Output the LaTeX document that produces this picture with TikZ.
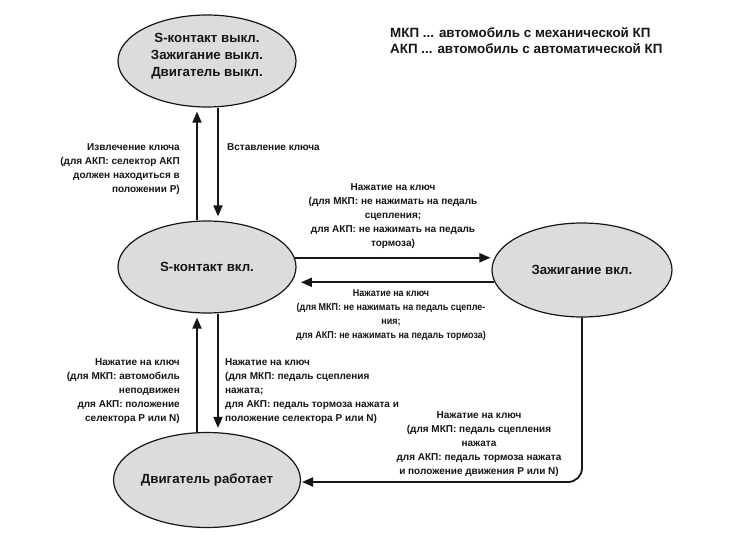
\documentclass[tikz,border=0pt]{standalone}
\usepackage{fontspec}
\setmainfont{Liberation Sans}
\newfontfamily\condfont{Liberation Sans}[FakeStretch=0.9]
\usetikzlibrary{shapes.geometric,arrows.meta}
\definecolor{efill}{HTML}{DCDCDC}
\definecolor{ink}{HTML}{161616}
\begin{document}
\begin{tikzpicture}[x=1pt,y=-1pt,
  state/.style={ellipse, draw=ink, line width=1.2pt, fill=efill, inner sep=0pt,
    font=\bfseries\fontsize{13.3}{17}\selectfont, align=center, text=ink},
  lbl/.style={inner sep=0pt, font=\bfseries\fontsize{10}{14.2}\selectfont, text=ink},
  clbl/.style={inner sep=0pt, font=\condfont\bfseries\fontsize{10}{14.2}\selectfont, text=ink},
  arr/.style={-{Triangle[length=11pt,width=9pt]}, line width=1.8pt, draw=ink, shorten >=4pt}]
\useasboundingbox (0,0) rectangle (747,538);
\fill[white] (0,0) rectangle (747,538);

\node[state, minimum width=178pt, minimum height=92pt, text depth=13pt] (off) at (207,61)
  {S-контакт выкл.\\Зажигание выкл.\\Двигатель выкл.};
\node[state, minimum width=178pt, minimum height=92pt] (s) at (207,267) {S-контакт вкл.};
\node[state, minimum width=180pt, minimum height=94pt] (z) at (582,270) {Зажигание вкл.};
\node[state, minimum width=180pt, minimum height=95pt] (d) at (207,480) {Двигатель работает};

\node[anchor=north west, inner sep=0pt, align=left, text=ink,
  font=\bfseries\fontsize{13.4}{16}\selectfont] (leg) at (390,27)
  {МКП ... автомобиль с механической КП\\АКП ... автомобиль с автоматической КП};

% arrows
\draw[arr] ([xshift=-10pt]s.north) -- ([xshift=-10pt]off.south);
\draw[arr] ([xshift=11pt]off.south) -- ([xshift=11pt]s.north);
\draw[arr] (s.6) -- (s.6 -| z.172);
\draw[arr, shorten >=10pt] (z.188) -- (z.188 -| s.-11);
\draw[arr] ([xshift=-10pt]d.north) -- ([xshift=-10pt]s.south);
\draw[arr] ([xshift=11pt]s.south) -- ([xshift=11pt]d.north);
\coordinate (dend) at (302,482);
\draw[arr, shorten >=0pt, rounded corners=14pt] (z.south) |- (dend);

% labels
\node[lbl, anchor=north east, align=right] (l1) at (180,143)
  {Извлечение ключа\\(для АКП: селектор АКП\\должен находиться в\\положении P)};
\node[lbl, anchor=north west] (l2) at (227,143) {Вставление ключа};
\node[lbl, anchor=north, align=center] (l3) at (393,183)
  {Нажатие на ключ\\(для МКП: не нажимать на педаль\\сцепления;\\для АКП: не нажимать на педаль\\тормоза)};
\node[clbl, anchor=north, align=center] (l4) at (391,289)
  {Нажатие на ключ\\(для МКП: не нажимать на педаль сцепле-\\ния;\\для АКП: не нажимать на педаль тормоза)};
\node[lbl, anchor=north east, align=right] (l5) at (180,358)
  {Нажатие на ключ\\(для МКП: автомобиль\\неподвижен\\для АКП: положение\\селектора P или N)};
\node[lbl, anchor=north west, align=left] (l6) at (225,358)
  {Нажатие на ключ\\(для МКП: педаль сцепления\\нажата;\\для АКП: педаль тормоза нажата и\\положение селектора P или N)};
\node[lbl, anchor=north, align=center] (l7) at (479,411)
  {Нажатие на ключ\\(для МКП: педаль сцепления\\нажата\\для АКП: педаль тормоза нажата\\и положение движения P или N)};
\end{tikzpicture}
\end{document}
